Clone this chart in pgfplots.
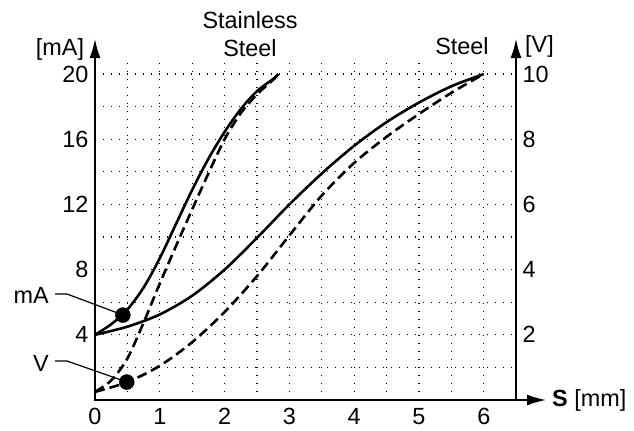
\documentclass[border=0pt]{standalone}
\usepackage{fontspec}
\setmainfont{Liberation Sans}
\usepackage{pgfplots}
\pgfplotsset{compat=1.18}
\usepackage{pgfplotstable}
\usetikzlibrary{arrows.meta}

% stainless steel, current (solid)
\pgfplotstableread{
x y
0 4
0.25 4.65
0.5 5.55
0.75 6.9
1.0 8.7
1.25 10.8
1.5 12.9
1.75 14.8
2.0 16.45
2.25 17.85
2.5 18.95
2.75 19.7
2.83 20
}\ssmA
% stainless steel, voltage (dashed), plotted on the mA scale (V*2)
\pgfplotstableread{
x y
0 0.5
0.25 1.2
0.5 2.55
0.75 4.75
1.0 7.15
1.25 9.45
1.5 11.7
1.75 13.9
2.0 16.0
2.25 17.6
2.5 18.75
2.75 19.65
2.83 20
}\ssV
% steel, current (solid)
\pgfplotstableread{
x y
0 4
0.5 4.5
1.0 5.25
1.5 6.4
2.0 8.0
2.5 9.95
3.0 12.0
3.5 13.9
4.0 15.6
4.5 17.05
5.0 18.25
5.5 19.25
6.0 20
}\stmA
% steel, voltage (dashed)
\pgfplotstableread{
x y
0 0.5
0.5 1.1
1.0 2.1
1.5 3.55
2.0 5.4
2.5 7.6
3.0 10.1
3.5 12.55
4.0 14.55
4.5 16.15
5.0 17.55
5.5 18.85
6.0 20
}\stV

\begin{document}
\begin{tikzpicture}[x=1bp,y=1bp,font=\fontsize{23.5}{28}\selectfont]
\path[use as bounding box] (0,0) rectangle (634,430);

\begin{axis}[
    at={(95bp,30bp)}, anchor=south west,
    scale only axis, width=421.2bp, height=339bp,
    xmin=0, xmax=6.5, ymin=0, ymax=20.8,
    axis line style={draw=none},
    xtick={0,1,...,6}, minor xtick={0.5,1.5,...,5.5},
    ytick={4,8,...,20}, minor ytick={2,6,...,18},
    major tick length=0pt, minor tick length=0pt,
    grid=both,
    grid style={black, line width=1.1bp, dash pattern=on 1.1bp off 6.9bp},
    minor grid style={black, line width=1.1bp, dash pattern=on 1.1bp off 6.9bp},
    tick label style={font=\fontsize{23.5}{28}\selectfont},
    /pgf/number format/assume math mode=true,
    xticklabel style={yshift=-5bp},
    yticklabel style={xshift=-3bp},
    clip=false,
]
\addplot[black, line width=2.6bp, smooth] table {\ssmA};
\addplot[black, line width=2.6bp, smooth, dash pattern=on 10bp off 5bp] table {\ssV};
\addplot[black, line width=2.6bp, smooth] table {\stmA};
\addplot[black, line width=2.6bp, smooth, dash pattern=on 10bp off 5bp] table {\stV};
\addplot[only marks, mark=*, mark size=7.5bp, black] coordinates {(0.43,5.21) (0.49,1.10)};
\end{axis}

\begin{axis}[
    at={(95bp,30bp)}, anchor=south west,
    scale only axis, width=421.2bp, height=339bp,
    xmin=0, xmax=6.5, ymin=0, ymax=10.4,
    axis line style={draw=none},
    xtick=\empty, ytick={2,4,...,10},
    yticklabel pos=right,
    major tick length=0pt,
    tick label style={font=\fontsize{23.5}{28}\selectfont},
    /pgf/number format/assume math mode=true,
    yticklabel style={xshift=3bp},
]
\end{axis}

% axes with arrows
\draw[line width=2.8bp, -{Latex[length=20bp,width=11bp]}] (95,28.6) -- (95,392);
\draw[line width=2.8bp, -{Latex[length=20bp,width=11bp]}] (516,28.6) -- (516,392);
\draw[line width=2.8bp, -{Latex[length=20bp,width=11bp]}] (93.6,30) -- (547,30);

% labels
\node at (60,381) {[mA]};
\node at (250,410) {Stainless};
\node at (250,382) {Steel};
\node at (462,384) {Steel};
\node[anchor=west, inner sep=0] at (525,384) {[V]};
\node[anchor=west, inner sep=0] at (552,30) {\textbf{S} [mm]};
\node[anchor=east, inner sep=0] at (49,135) {mA};
\node[anchor=east, inner sep=0] at (49,67) {V};
\draw[line width=1.2bp] (55,136) -- (67,136) -- (123,115);
\draw[line width=1.2bp] (55,69) -- (67,69) -- (127,48);
\end{tikzpicture}
\end{document}
